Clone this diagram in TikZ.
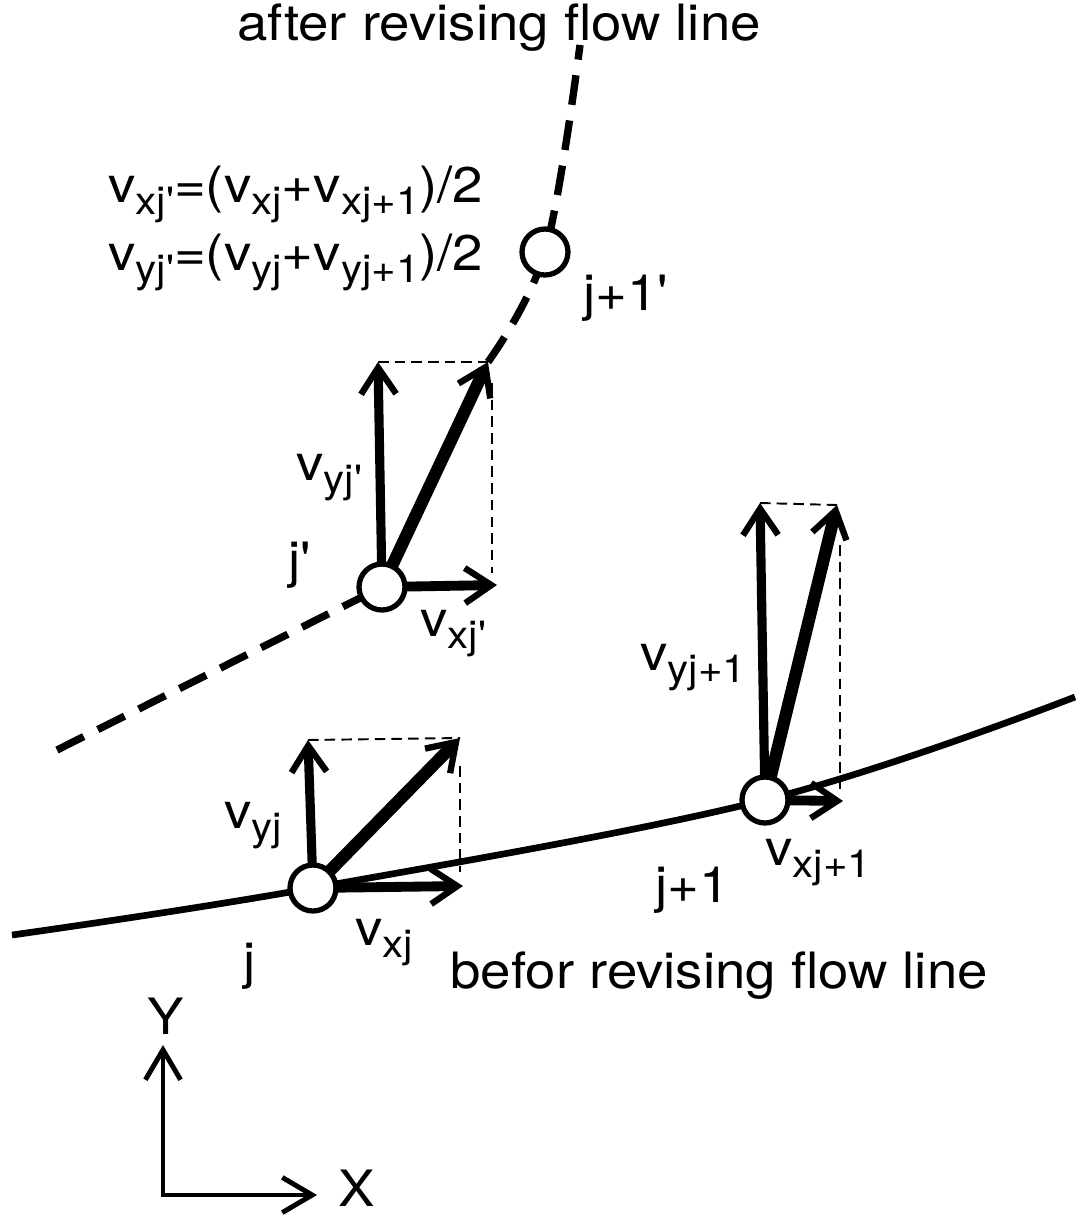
\documentclass[tikz,border=0pt]{standalone}
\usepackage{fontspec}
\newfontfamily\hv{TeX Gyre Heros}[FakeStretch=1.09]
\usetikzlibrary{arrows.meta,calc}
\newcommand\sbf{\fontsize{22pt}{23pt}\selectfont}
\newcommand\vsub[1]{v\raisebox{-7pt}{\sbf #1}}
\begin{document}
\begin{tikzpicture}[x=0.02cm,y=-0.02cm,
  lbl/.style={font=\hv\fontsize{28.5pt}{31pt}\selectfont, inner sep=0pt},
  pt/.style={circle, draw, line width=3pt, fill=white, minimum size=0.92cm, inner sep=0pt},
  flow/.style={line width=3.8pt},
  flowd/.style={line width=4.2pt, dash pattern=on 17pt off 9pt},
  guide/.style={line width=1.1pt, dash pattern=on 6pt off 3.5pt},
  tip/.style={-{Straight Barb[length=15pt,width=20pt,line width=3.6pt]}},
  vy/.style={tip, line width=5.2pt},
  vd/.style={tip, line width=7pt},
  vx/.style={tip, line width=5.6pt},
  ax/.style={{Straight Barb[length=17pt,width=20pt,line width=2.8pt]}-{Straight Barb[length=17pt,width=20pt,line width=2.8pt]}, line width=2.8pt, line join=miter}]
\useasboundingbox (0,0) rectangle (1081,1215);
\fill[white] (0,0) rectangle (1081,1215);
% node centres
\coordinate (cj) at (313,888);
\coordinate (cj1) at (765,800);
\coordinate (cjp) at (382,587);
\coordinate (cj1p) at (545,252);
% flow line ends
\coordinate (fs) at (12,935);
\coordinate (fe) at (1075,697);
\coordinate (ds) at (57,750);
\coordinate (dtop) at (580,45);
% vector tips
\coordinate (jy) at (308,740);
\coordinate (jd) at (460,738);
\coordinate (jx) at (463,886);
\coordinate (j1y) at (760,503);
\coordinate (j1d) at (837,505);
\coordinate (j1x) at (843,801);
\coordinate (jpy) at (378,362);
\coordinate (jpd) at (488,362);
\coordinate (jpx) at (497,585);
% flow lines
\draw[flow] plot[smooth, tension=0.6] coordinates {(fs) (cj) (cj1) (fe)};
\draw[flowd] (ds) -- (cjp);
\draw[flowd] plot[smooth, tension=0.6] coordinates {(jpd) (cj1p) (dtop)};
% guides
\draw[guide] (jy) -- (jd);
\draw[guide] ($(jd)+(0,28)$) -- ($(jd|-jx)+(0,-14)$);
\draw[guide] (j1y) -- (j1d);
\draw[guide] ($(j1d)+(3,40)$) -- ($(j1d|-j1x)+(3,-10)$);
\draw[guide] (jpy) -- (jpd);
\draw[guide] ($(jpd)+(4,21)$) -- ($(jpd|-jpx)+(4,-12)$);
% vectors
\draw[vy] (cj) -- (jy);
\draw[vd] (cj) -- (jd);
\draw[vx] (cj) -- (jx);
\draw[vy] (cj1) -- (j1y);
\draw[vd] (cj1) -- (j1d);
\draw[vx] (cj1) -- (j1x);
\draw[vy] (cjp) -- (jpy);
\draw[vd] (cjp) -- (jpd);
\draw[vx] (cjp) -- (jpx);
% points
\node[pt] (nj) at (cj) {};
\node[pt] (nj1) at (cj1) {};
\node[pt] (njp) at (cjp) {};
\node[pt] (nj1p) at (cj1p) {};
% axes
\coordinate (O) at (163,1195);
\coordinate (ay) at (163,1045);
\coordinate (axx) at (317,1195);
\draw[ax] (ay) -- (O) -- (axx);
\node[lbl] (Y) at (166,1016) {Y};
\node[lbl] (X) at (357,1188) {X};
% labels
\node[lbl, anchor=base west] (t1) at (237,40) {after revising flow line};
\node[lbl, anchor=base west] (t2) at (450,988) {befor revising flow line};
\node[lbl, anchor=base west] (f1) at (108,202) {\vsub{xj'}=(\vsub{xj}+\vsub{xj+1})/2};
\node[lbl, anchor=base west] (f2) at (108,270) {\vsub{yj'}=(\vsub{yj}+\vsub{yj+1})/2};
\node[lbl, anchor=base west] (lj1p) at (583,310) {j+1'};
\node[lbl, anchor=base west] (lvyjp) at (296,480) {\vsub{yj'}};
\node[lbl, anchor=base west] (ljp) at (288,577) {j'};
\node[lbl, anchor=base west] (lvxjp) at (420,636) {\vsub{xj'}};
\node[lbl, anchor=base west] (lvyj1) at (640,670) {\vsub{yj+1}};
\node[lbl, anchor=base west] (lvyj) at (224,828) {\vsub{yj}};
\node[lbl, anchor=base west] (lvxj) at (355,945) {\vsub{xj}};
\node[lbl, anchor=base west] (lj) at (243,978) {j};
\node[lbl, anchor=base west] (lj1) at (655,902) {j+1};
\node[lbl, anchor=base west] (lvxj1) at (765,865) {\vsub{xj+1}};
\end{tikzpicture}
\end{document}
